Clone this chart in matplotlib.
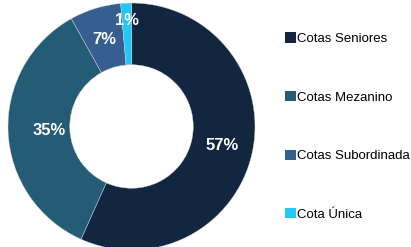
import numpy as np
import matplotlib
matplotlib.use("Agg")
import matplotlib.pyplot as plt

categories = ["Cotas Seniores", "Cotas Mezanino", "Cotas Subordinada", "Cota Única"]
values = [56.7, 35.2, 6.7, 1.4]
pct_labels = ["57%", "35%", "7%", "1%"]
colors = ["#13263f", "#245c75", "#365e8f", "#22c8f5"]
label_dist = [0.75, 0.67, 0.74, 0.86]

W, H, DPI = 411, 247, 100
fig = plt.figure(figsize=(W / DPI, H / DPI), dpi=DPI)
cx, cy, R = 131.5, 126.5, 123.5
ax = fig.add_axes([(cx - R) / W, (H - cy - R) / H, 2 * R / W, 2 * R / H])

wedges, _ = ax.pie(values, colors=colors, startangle=90, counterclock=False,
                   radius=1.0, wedgeprops=dict(width=0.5, edgecolor="#cfd6de", linewidth=0.3))
ax.set_xlim(-1, 1)
ax.set_ylim(-1, 1)
ax.set_aspect("equal")
ax.axis("off")

total = sum(values)
cum = 0.0
for v, lab, d in zip(values, pct_labels, label_dist):
    mid = (cum + v / 2) / total
    ang = np.deg2rad(90 - 360 * mid)
    ax.text(d * np.cos(ang), d * np.sin(ang), lab, ha="center", va="center",
            color="white", fontsize=12, fontweight="bold",
            family=["Liberation Sans Narrow", "Liberation Sans"])
    cum += v

leg = fig.legend(wedges, categories, loc="upper left", bbox_to_anchor=(285 / W, 1 - 32.5 / H),
                 frameon=False, prop={"family": "Liberation Sans", "size": 9.5},
                 labelspacing=3.48, handlelength=0.8, handleheight=0.8, handletextpad=0.1,
                 borderpad=0, borderaxespad=0)
for h in leg.legend_handles:
    h.set_edgecolor("none")

fig.savefig("out.png", dpi=DPI)
